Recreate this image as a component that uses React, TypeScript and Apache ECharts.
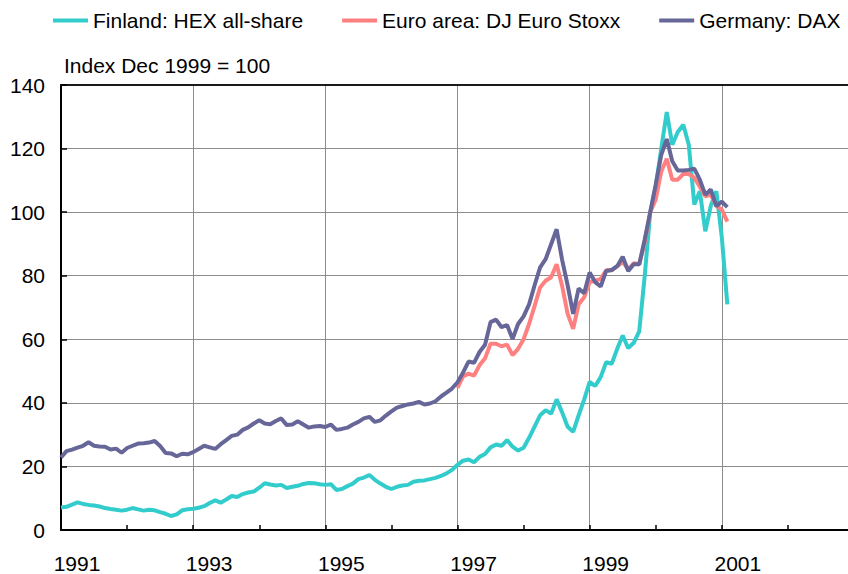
import React, { useEffect, useRef } from "react";
import * as echarts from "echarts";

// Monthly data, Jan 1991 onward (index 0 = Jan 1991)
const START_YEAR = 1991;
const seriesNames = ["Finland: HEX all-share", "Euro area: DJ Euro Stoxx", "Germany: DAX"];
const seriesColors = ["#33CCCC", "#FF8080", "#666699"];
const unitLabel = "Index Dec 1999 = 100";
const xTickLabels = ["1991", "1993", "1995", "1997", "1999", "2001"];

const finland = [
  7.1, 7.3, 8.0, 8.7, 8.2, 7.9, 7.7, 7.4, 6.9, 6.6, 6.4, 6.1,
  6.4, 6.9, 6.5, 6.1, 6.4, 6.2, 5.6, 5.1, 4.4, 4.9, 6.2, 6.5,
  6.7, 7.0, 7.5, 8.5, 9.3, 8.6, 9.6, 10.7, 10.4, 11.3, 11.8, 12.1,
  13.3, 14.7, 14.3, 14.0, 14.2, 13.2, 13.6, 13.9, 14.5, 14.8, 14.7, 14.4,
  14.2, 14.4, 12.6, 12.9, 13.8, 14.6, 16.0, 16.5, 17.3, 15.8, 14.6, 13.6,
  12.9, 13.6, 14.0, 14.2, 15.2, 15.5, 15.6, 16.0, 16.4, 17.0, 17.8, 18.9,
  20.5, 21.8, 22.2, 21.3, 23.0, 23.9, 26.0, 26.9, 26.5, 28.3, 26.2, 25.0,
  25.9, 29.0, 32.5, 36.1, 37.7, 36.6, 41.1, 37.0, 32.5, 30.9, 36.1, 41.0,
  46.6, 45.3, 48.1, 52.8, 52.3, 57.0, 61.2, 57.2, 58.9, 62.5, 80.0, 100.0,
  108.0, 120.0, 131.5, 121.2, 125.2, 127.5, 121.2, 102.4, 106.6, 94.0, 102.0, 106.6,
  92.0, 71.0,
];

// Euro Stoxx series starts in Jan 1997 (month index 72)
const EURO_START_MONTH = 72;
const euroStoxx = [
  44.7, 48.3, 49.2, 48.6, 51.8, 54.0, 58.6, 58.6, 57.8, 58.3, 55.0, 57.0,
  60.0, 64.8, 70.5, 76.3, 78.4, 79.5, 83.6, 76.8, 68.0, 63.3, 71.0, 73.2,
  78.0, 78.4, 79.0, 81.7, 81.7, 83.0, 84.3, 82.1, 83.9, 83.6, 90.4, 100.0,
  104.0, 112.8, 116.8, 110.2, 110.2, 112.0, 112.0, 110.8, 108.0, 105.0, 105.5, 102.0,
  100.8, 97.0,
];

const dax = [
  22.8, 24.8, 25.3, 25.9, 26.5, 27.6, 26.5, 26.3, 26.2, 25.3, 25.6, 24.3,
  25.8, 26.5, 27.2, 27.3, 27.5, 28.0, 26.4, 24.2, 24.1, 23.2, 24.0, 23.8,
  24.5, 25.5, 26.5, 26.0, 25.5, 27.0, 28.3, 29.6, 30.0, 31.5, 32.3, 33.5,
  34.5, 33.5, 33.3, 34.3, 35.1, 33.0, 33.2, 34.2, 33.2, 32.2, 32.6, 32.7,
  32.4, 33.2, 31.5, 31.8, 32.2, 33.2, 34.0, 35.1, 35.6, 34.0, 34.5, 36.0,
  37.3, 38.5, 39.0, 39.5, 39.8, 40.3, 39.5, 39.8, 40.5, 42.0, 43.2, 44.5,
  46.5, 49.5, 53.0, 52.6, 56.0, 58.3, 65.4, 66.2, 63.8, 64.5, 60.1, 64.8,
  67.2, 71.0, 77.0, 82.6, 85.2, 89.9, 94.6, 85.0, 77.0, 68.0, 76.0, 74.5,
  81.0, 78.0, 76.6, 81.5, 81.8, 83.0, 86.0, 81.5, 83.6, 83.6, 91.4, 100.0,
  108.7, 118.0, 123.0, 116.0, 113.1, 113.1, 113.3, 113.7, 110.2, 105.5, 107.1, 101.9,
  103.3, 101.6,
];

const toPoints = (values: number[], offset = 0) =>
  values.map((v, i) => [(i + offset) / 12, v]);

const FONT = "'Liberation Sans', Arial, sans-serif";

export default function App() {
  const ref = useRef<HTMLDivElement>(null);

  useEffect(() => {
    if (!ref.current) return;
    const chart = echarts.init(ref.current, null, { renderer: "svg" });
    const xMax = 12;
    chart.setOption({
      animation: false,
      backgroundColor: "#fff",
      textStyle: { fontFamily: FONT },
      title: {
        text: unitLabel,
        left: 64,
        top: 55,
        padding: 0,
        textStyle: { fontSize: 21, fontWeight: "normal", color: "#000", fontFamily: FONT },
      },
      legend: {
        top: 10,
        left: 53,
        padding: 0,
        icon: "rect",
        itemWidth: 35,
        itemHeight: 4,
        itemGap: 39,
        textStyle: { fontSize: 21, color: "#000", fontFamily: FONT },
        data: seriesNames,
      },
      grid: { left: 61, right: 0, top: 85, bottom: 42, containLabel: false },
      xAxis: [
        {
          type: "value",
          min: 0,
          max: xMax,
          interval: 2,
          axisLine: { show: true, onZero: false, lineStyle: { color: "#000", width: 2 } },
          axisTick: { show: true, inside: true, length: 5, lineStyle: { color: "#000", width: 1.5 } },
          minorTick: { show: true, splitNumber: 2, length: 5, lineStyle: { color: "#000", width: 1.5 } },
          splitLine: { show: true, lineStyle: { color: "#8c8c8c", width: 1 } },
          axisLabel: {
            show: true,
            fontSize: 21,
            color: "#000",
            fontFamily: FONT,
            margin: 23,
            align: "center",
            padding: [0, 0, 0, 32],
            formatter: (v: number) => {
              const idx = Math.round(v) / 2;
              return Number.isInteger(idx) && Math.abs(v - Math.round(v)) < 1e-6 && xTickLabels[idx]
                ? xTickLabels[idx]
                : "";
            },
          },
        },
        {
          type: "value",
          position: "top",
          min: 0,
          max: xMax,
          interval: 2,
          axisLine: { show: true, onZero: false, lineStyle: { color: "#1a1a1a", width: 2 } },
          axisTick: { show: false },
          axisLabel: { show: false },
          splitLine: { show: false },
        },
      ],
      yAxis: {
        type: "value",
        min: 0,
        max: 140,
        interval: 20,
        axisLine: { show: true, lineStyle: { color: "#000", width: 2 } },
        axisTick: { show: true, inside: true, length: 6, lineStyle: { color: "#000", width: 1.5 } },
        splitLine: { show: true, lineStyle: { color: "#8c8c8c", width: 1 } },
        axisLabel: { fontSize: 21, color: "#000", margin: 16, fontFamily: FONT },
      },
      series: [
        {
          name: seriesNames[0],
          type: "line",
          data: toPoints(finland),
          showSymbol: false,
          color: seriesColors[0],
          lineStyle: { width: 4, color: seriesColors[0] },
          z: 2,
        },
        {
          name: seriesNames[1],
          type: "line",
          data: toPoints(euroStoxx, EURO_START_MONTH),
          showSymbol: false,
          color: seriesColors[1],
          lineStyle: { width: 4, color: seriesColors[1] },
          z: 3,
        },
        {
          name: seriesNames[2],
          type: "line",
          data: toPoints(dax),
          showSymbol: false,
          color: seriesColors[2],
          lineStyle: { width: 4, color: seriesColors[2] },
          z: 4,
        },
      ],
    });
    return () => chart.dispose();
  }, []);

  // The plot area runs past the right edge of the 848px page, as in the reference.
  return (
    <div
      ref={ref}
      style={{ position: "fixed", left: 0, top: 0, width: 857, height: 574, background: "#fff" }}
    />
  );
}
